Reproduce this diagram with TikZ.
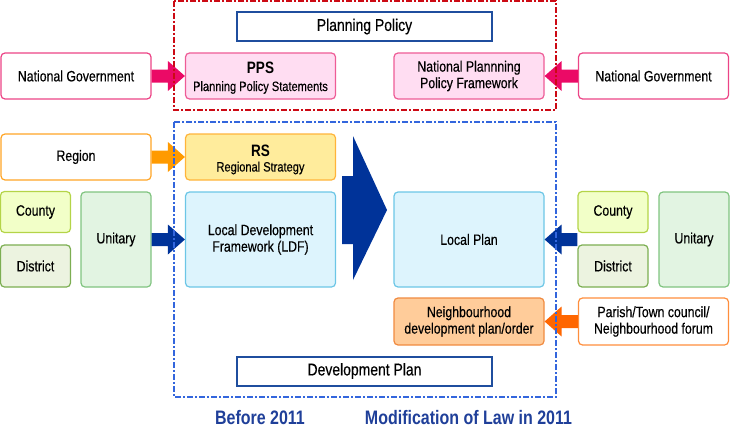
\documentclass[tikz,border=0pt]{standalone}
\usepackage{fontspec}
\setmainfont{Liberation Sans}[FakeStretch=0.82, UprightFeatures={FakeBold=0.4}]
\usetikzlibrary{calc}
\definecolor{pinkarr}{HTML}{EB0A66}
\definecolor{pinkfill}{HTML}{FFDDF2}
\definecolor{pinkline}{HTML}{EE5C96}
\definecolor{ngline}{HTML}{EC4486}
\definecolor{reddash}{HTML}{CC0A14}
\definecolor{bluedash}{HTML}{3366DD}
\definecolor{navy}{HTML}{1F4E9E}
\definecolor{orline}{HTML}{FFA526}
\definecolor{rsfill}{HTML}{FFEC9C}
\definecolor{rsline}{HTML}{FFB43A}
\definecolor{orarr}{HTML}{FF9A00}
\definecolor{cofill}{HTML}{F2FFC8}
\definecolor{coline}{HTML}{B4D448}
\definecolor{difill}{HTML}{ECF3E0}
\definecolor{diline}{HTML}{7CAE52}
\definecolor{unfill}{HTML}{E2F4E2}
\definecolor{unline}{HTML}{80C480}
\definecolor{ldffill}{HTML}{DDF4FD}
\definecolor{ldfline}{HTML}{6CC6E6}
\definecolor{bluearr}{HTML}{003399}
\definecolor{nbfill}{HTML}{FFCC9A}
\definecolor{nbline}{HTML}{F08A40}
\definecolor{paline}{HTML}{FF8E3C}
\definecolor{darkor}{HTML}{FF6600}
\definecolor{bottomtxt}{HTML}{1F3F99}
\newcommand{\fatarrow}[3]{%
  \fill[#1] ($#2+(0,-6.5)$) -- ($#3!17pt!#2+(0,-6.5)$) -- ($#3!17pt!#2+(0,-15)$)
    -- #3 -- ($#3!17pt!#2+(0,15)$) -- ($#3!17pt!#2+(0,6.5)$) -- ($#2+(0,6.5)$) -- cycle;}
\begin{document}
\begin{tikzpicture}[x=1pt,y=-1pt,
  box/.style={draw, rounded corners=4pt, line width=1.2pt, inner sep=0pt, align=center,
    font=\fontsize{15}{16.5}\selectfont},
  wide/.style={minimum width=150pt, minimum height=46pt},
  tall/.style={minimum width=150pt, minimum height=95pt},
  small/.style={minimum width=70pt, minimum height=41pt},
  smalltall/.style={minimum width=70pt, minimum height=95pt},
  ngbox/.style={box, wide, draw=ngline, fill=white},
  pinkbox/.style={box, wide, draw=pinkline, fill=pinkfill},
  titlebox/.style={draw=navy, line width=2pt, fill=white, minimum width=255pt, minimum height=29pt,
    inner sep=0pt, font=\fontsize{17}{19}\selectfont},
  abbr/.style={anchor=base, inner sep=0pt, font=\fontsize{16.5}{18}\selectfont\bfseries},
  sub/.style={anchor=base, inner sep=0pt, font=\fontsize{13.5}{15}\selectfont},
  bottom/.style={text=bottomtxt, font=\fontsize{19.5}{22}\selectfont\bfseries, inner sep=0pt},
  dashdot/.style={line width=1.6pt, dash pattern=on 6pt off 2pt on 2pt off 2pt}
]
\useasboundingbox (0,0) rectangle (730,428);

% nodes
\node[ngbox] (ng1) at (76,76) {National Government};
\node[pinkbox] (pps) at (260.5,76) {};
\node[abbr] (ppsa) at ($(pps.center)+(0,-2)$) {PPS};
\node[sub] (ppss) at ($(pps.center)+(0,15)$) {Planning Policy Statements};
\node[pinkbox] (nppf) at (469,76) {National Plannning\\Policy Framework};
\node[ngbox] (ng2) at (653.5,76) {National Government};

\node[box, wide, draw=orline, fill=white] (region) at (76,157) {Region};
\node[box, wide, draw=rsline, fill=rsfill] (rs) at (260.5,157) {};
\node[abbr] (rsa) at ($(rs.center)+(0,-0.5)$) {RS};
\node[sub] (rss) at ($(rs.center)+(0,14.5)$) {Regional Strategy};

\node[box, small, draw=coline, fill=cofill] (countyL) at (35.5,212) {County};
\node[box, small, draw=diline, fill=difill, minimum height=42pt] (districtL) at (35.5,266) {District};
\node[box, smalltall, draw=unline, fill=unfill] (unitaryL) at (116,239.5) {Unitary};
\node[box, tall, draw=ldfline, fill=ldffill] (ldf) at (260.5,239.5) {Local Development\\Framework (LDF)};

\node[box, tall, draw=ldfline, fill=ldffill] (lp) at (469,239.5) {Local Plan};
\node[box, small, draw=coline, fill=cofill] (countyR) at (613,212) {County};
\node[box, small, draw=diline, fill=difill, minimum height=42pt] (districtR) at (613,266) {District};
\node[box, smalltall, draw=unline, fill=unfill] (unitaryR) at (694,239.5) {Unitary};

\node[box, wide, minimum height=47pt, draw=nbline, fill=nbfill] (nb) at (469,321.5) {Neighbourhood\\development plan/order};
\node[box, wide, minimum height=47pt, draw=paline, fill=white] (parish) at (653.5,321.5) {Parish/Town council/\\Neighbourhood forum};

% arrows
\fatarrow{pinkarr}{(ng1.east)}{(pps.west)}
\fatarrow{pinkarr}{(ng2.west)}{(nppf.east)}
\fatarrow{orarr}{(region.east)}{(rs.west)}
\fatarrow{bluearr}{(unitaryL.east)}{(ldf.west)}
\coordinate (crL) at (countyR.west |- lp.east);
\fatarrow{bluearr}{(crL)}{(lp.east)}
\fatarrow{darkor}{(parish.west)}{(nb.east)}

% big arrow
\fill[bluearr] (342,176) -- (353,176) -- (353,136) -- (387,210) -- (353,280) -- (353,244) -- (342,244) -- cycle;

% dash-dot frames
\draw[dashdot, draw=reddash] (174,1) rectangle (556,110);
\draw[dashdot, draw=bluedash] (174,122) rectangle (556,397);

% title boxes
\node[titlebox] (pp) at (364.5,26.5) {Planning Policy};
\node[titlebox] (dp) at (364.5,371) {Development Plan};

% bottom labels
\node[bottom] (before) at (260,418) {Before 2011};
\node[bottom] (mod) at (468.5,418) {Modification of Law in 2011};
\end{tikzpicture}
\end{document}
